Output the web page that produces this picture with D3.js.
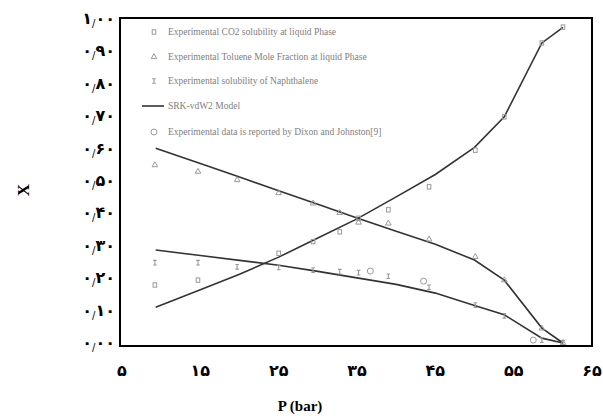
<!DOCTYPE html>
<meta charset="utf-8">
<body style="margin:0;background:#fff">
<svg width="603" height="418"></svg>
<script src="https://cdn.jsdelivr.net/npm/d3@7"></script>
<script>
// model grid (bar) and SRK-vdW2 curves
var modelP = [9.3, 15, 20, 25, 30, 35, 40, 45, 50, 53.8, 58.6, 61.3];
var modelCO2 = [0.110, 0.164, 0.212, 0.265, 0.324, 0.383, 0.451, 0.520, 0.604, 0.698, 0.926, 0.974];
var modelToluene = [0.601, 0.554, 0.512, 0.470, 0.428, 0.386, 0.345, 0.305, 0.256, 0.194, 0.046, 0.0];
var modelNaph = [0.287, 0.270, 0.255, 0.240, 0.221, 0.201, 0.181, 0.154, 0.116, 0.087, 0.015, 0.0];

// experimental points
var co2P = [9.2, 14.7, 25.0, 29.4, 32.8, 35.2, 39.0, 44.2, 50.1, 53.8, 58.6, 61.3];
var co2X = [0.179, 0.194, 0.277, 0.313, 0.343, 0.385, 0.411, 0.482, 0.595, 0.698, 0.926, 0.975];
var tolP = [9.2, 14.7, 19.7, 25.0, 29.4, 32.8, 35.2, 39.0, 44.2, 50.1, 53.8, 58.6, 61.3];
var tolX = [0.549, 0.529, 0.503, 0.463, 0.431, 0.402, 0.372, 0.369, 0.320, 0.266, 0.194, 0.045, 0.0];
var naphP = [9.2, 14.7, 19.7, 25.0, 29.4, 32.8, 35.2, 39.0, 44.2, 50.1, 53.8, 58.6, 61.3];
var naphX = [0.248, 0.248, 0.235, 0.233, 0.225, 0.220, 0.217, 0.206, 0.172, 0.117, 0.084, 0.009, 0.001];
var dixonP = [36.7, 43.5, 57.5];
var dixonX = [0.222, 0.191, 0.009];

var xTicks = [5, 15, 25, 35, 45, 55, 65];
var yTicks = [0, 0.1, 0.2, 0.3, 0.4, 0.5, 0.6, 0.7, 0.8, 0.9, 1.0];

var legendLabels = [
    "Experimental CO2 solubility at liquid Phase",
    "Experimental Toluene Mole Fraction at liquid Phase",
    "Experimental solubility of Naphthalene",
    "SRK-vdW2 Model",
    "Experimental data is reported by Dixon and Johnston[9]"
];

var svg = d3.select("svg");
var fa = "۰۱۲۳۴۵۶۷۸۹";
function toFa(s) { return String(s).replace(/[0-9]/g, function(c) { return fa[+c]; }); }

var x = d3.scaleLinear().domain([5, 65]).range([122, 592]);
var y = d3.scaleLinear().domain([0, 1]).range([343, 19]);

var frame = {left: 120, top: 18, right: 592, bottom: 346};

// model lines
var line = d3.line()
    .x(function(d) { return x(d[0]); })
    .y(function(d) { return y(d[1]); });

[modelCO2, modelToluene, modelNaph].forEach(function(vals) {
    svg.append("path")
        .datum(modelP.map(function(p, i) { return [p, vals[i]]; }))
        .attr("d", line)
        .attr("fill", "none")
        .attr("stroke", "#333")
        .attr("stroke-width", 1.6);
});

var grey = "#9a9a9a";
function marker(g, kind, cx, cy) {
    if (kind === "sq") {
        g.append("rect").attr("x", cx - 1.8).attr("y", cy - 2.2).attr("width", 3.6).attr("height", 4.4)
            .attr("fill", "none").attr("stroke", grey).attr("stroke-width", 1);
    } else if (kind === "tri") {
        g.append("path").attr("d", d3.symbol(d3.symbolTriangle, 14)())
            .attr("transform", "translate(" + cx + "," + cy + ")")
            .attr("fill", "none").attr("stroke", grey).attr("stroke-width", 1);
    } else if (kind === "bar") {
        g.append("path").attr("d", "M" + (cx - 1.8) + "," + (cy - 2.3) + "h3.6M" + cx + "," + (cy - 2.3) + "v4.6M" + (cx - 1.8) + "," + (cy + 2.3) + "h3.6")
            .attr("fill", "none").attr("stroke", grey).attr("stroke-width", 1.1);
    } else {
        g.append("circle").attr("cx", cx).attr("cy", cy).attr("r", 3)
            .attr("fill", "none").attr("stroke", grey).attr("stroke-width", 1);
    }
}

var pts = svg.append("g");
co2P.forEach(function(p, i) { marker(pts, "sq", x(p), y(co2X[i])); });
tolP.forEach(function(p, i) { marker(pts, "tri", x(p), y(tolX[i])); });
naphP.forEach(function(p, i) { marker(pts, "bar", x(p), y(naphX[i])); });
dixonP.forEach(function(p, i) { marker(pts, "circ", x(p), y(dixonX[i])); });

// frame
svg.append("rect")
    .attr("x", frame.left).attr("y", frame.top)
    .attr("width", frame.right - frame.left).attr("height", frame.bottom - frame.top)
    .attr("fill", "none").attr("stroke", "#000").attr("stroke-width", 2);

// legend
var legY = [32, 57, 81, 106, 132];
var legKinds = ["sq", "tri", "bar", "line", "circ"];
var leg = svg.append("g");
legendLabels.forEach(function(t, i) {
    if (legKinds[i] === "line") {
        leg.append("line").attr("x1", 142).attr("x2", 164).attr("y1", legY[i]).attr("y2", legY[i])
            .attr("stroke", "#333").attr("stroke-width", 1.6);
    } else {
        marker(leg, legKinds[i], 154, legY[i]);
    }
    leg.append("text")
        .attr("x", 168).attr("y", legY[i] + 3)
        .style("font-family", "'Liberation Serif', serif")
        .style("font-size", "9.5px")
        .attr("fill", "#808080")
        .text(t);
});

// y tick labels (Persian digits)
var yl = svg.append("g")
    .style("font-family", "'DejaVu Sans', sans-serif")
    .style("font-weight", "bold")
    .attr("text-anchor", "end");
yTicks.forEach(function(v) {
    var s = v.toFixed(2).split(".");
    var t = yl.append("text").attr("x", 115).attr("y", y(v) + 5).style("font-size", "16px");
    t.append("tspan").text(toFa(s[0]));
    t.append("tspan").text("/").style("font-weight", "normal").style("font-size", "10px").attr("dy", 3);
    t.append("tspan").text(toFa(s[1])).attr("dy", -3);
});

// x tick labels
var xl = svg.append("g")
    .style("font-family", "'DejaVu Sans', sans-serif")
    .style("font-weight", "bold")
    .style("font-size", "16px")
    .attr("text-anchor", "middle");
xTicks.forEach(function(v) {
    xl.append("text").attr("x", x(v)).attr("y", 376).text(toFa(v));
});

// axis titles
svg.append("text")
    .attr("x", 300).attr("y", 411)
    .attr("text-anchor", "middle")
    .style("font-family", "'Liberation Serif', serif")
    .style("font-weight", "bold")
    .style("font-size", "15px")
    .text("P (bar)");
svg.append("text")
    .attr("transform", "translate(29,190) rotate(-90)")
    .attr("text-anchor", "middle")
    .style("font-family", "'Liberation Serif', serif")
    .style("font-weight", "bold")
    .style("font-size", "17px")
    .text("X");
</script>
</body>
